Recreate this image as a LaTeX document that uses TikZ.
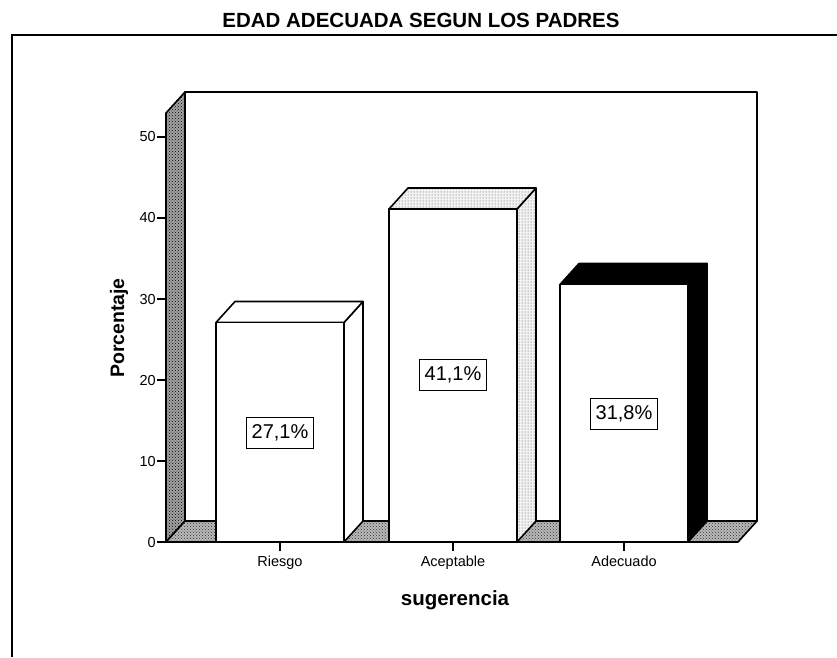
\documentclass[tikz,border=0pt]{standalone}
\usepackage{fontspec}
\setmainfont{Liberation Sans}
\usetikzlibrary{patterns}
\begin{document}
\begin{tikzpicture}[x=1pt,y=-1pt,
  edge/.style={draw=black, line width=1.6pt, line join=round},
  leftwall/.style={edge, preaction={fill=gray!72}, pattern=crosshatch dots, pattern color=black},
  floorface/.style={edge, preaction={fill=gray!55}, pattern=crosshatch dots, pattern color=black!80},
  whiteface/.style={edge, fill=white},
  dotface/.style={edge, preaction={fill=gray!10}, pattern=dots, pattern color=black!70},
  darkface/.style={edge, fill=black},
  titletxt/.style={font=\bfseries\fontsize{20.5}{24}\selectfont, inner sep=0pt},
  axtitle/.style={font=\bfseries\fontsize{19.5}{23}\selectfont, inner sep=0pt},
  ticktxt/.style={font=\fontsize{14.5}{17}\selectfont, inner sep=0pt},
  vallabel/.style={draw=black, line width=1.3pt, fill=white, font=\fontsize{20}{24}\selectfont,
     text height=15pt, text depth=4pt, inner xsep=5pt, inner ysep=6pt},
  tickline/.style={draw=black, line width=1.4pt}
]
\useasboundingbox (0,0) rectangle (837,657);

% outer frame (only top and left visible)
\draw[line width=1.4pt] (12,657) -- (12,35) -- (837,35);

% title
\node[titletxt] (title) at (421,20) {EDAD ADECUADA SEGUN LOS PADRES};

% back wall
\path[whiteface] (185,92) rectangle (757,521);
% left wall
\path[leftwall] (166,542) -- (185,521) -- (185,92) -- (166,113) -- cycle;
% floor
\path[floorface] (166,542) -- (738,542) -- (757,521) -- (185,521) -- cycle;

% Riesgo bar: L=216 R=344 T=322.5
\path[whiteface] (344,542) -- (344,322.5) -- (363,301.5) -- (363,521) -- cycle;
\path[whiteface] (216,322.5) -- (344,322.5) -- (363,301.5) -- (235,301.5) -- cycle;
\path[whiteface] (216,322.5) rectangle (344,542);

% Aceptable bar: L=389 R=517 T=209
\path[dotface] (517,542) -- (517,209) -- (536,188) -- (536,521) -- cycle;
\path[dotface] (389,209) -- (517,209) -- (536,188) -- (408,188) -- cycle;
\path[whiteface] (389,209) rectangle (517,542);

% Adecuado bar: L=560 R=688 T=284.5
\path[darkface] (688,542) -- (688,284.5) -- (707,263.5) -- (707,521) -- cycle;
\path[darkface] (560,284.5) -- (688,284.5) -- (707,263.5) -- (579,263.5) -- cycle;
\path[whiteface] (560,284.5) rectangle (688,542);

% axis baseline
\draw[line width=1.8pt] (158,542) -- (738,542);

% y ticks and labels
\foreach \v/\yy in {0/542,10/461,20/380,30/299,40/218,50/137}{
  \draw[tickline] (157,\yy) -- (166,\yy);
  \node[ticktxt, anchor=east] (yl\v) at (156,\yy) {\v};
}

% x ticks and labels
\foreach \nm/\xx/\lab in {r/280/Riesgo,a/453/Aceptable,d/624/Adecuado}{
  \draw[tickline] (\xx,542) -- (\xx,551);
  \node[ticktxt, anchor=base] (xl\nm) at (\xx,566) {\lab};
}

% value labels
\node[vallabel] (v1) at (280,433) {27,1\%};
\node[vallabel] (v2) at (453,375) {41,1\%};
\node[vallabel] (v3) at (624,414) {31,8\%};

% axis titles
\node[axtitle, rotate=90] (ytitle) at (119,328) {Porcentaje};
\node[axtitle, anchor=base, font=\bfseries\fontsize{20.5}{24}\selectfont] (xtitle) at (455,605) {sugerencia};
\end{tikzpicture}
\end{document}
